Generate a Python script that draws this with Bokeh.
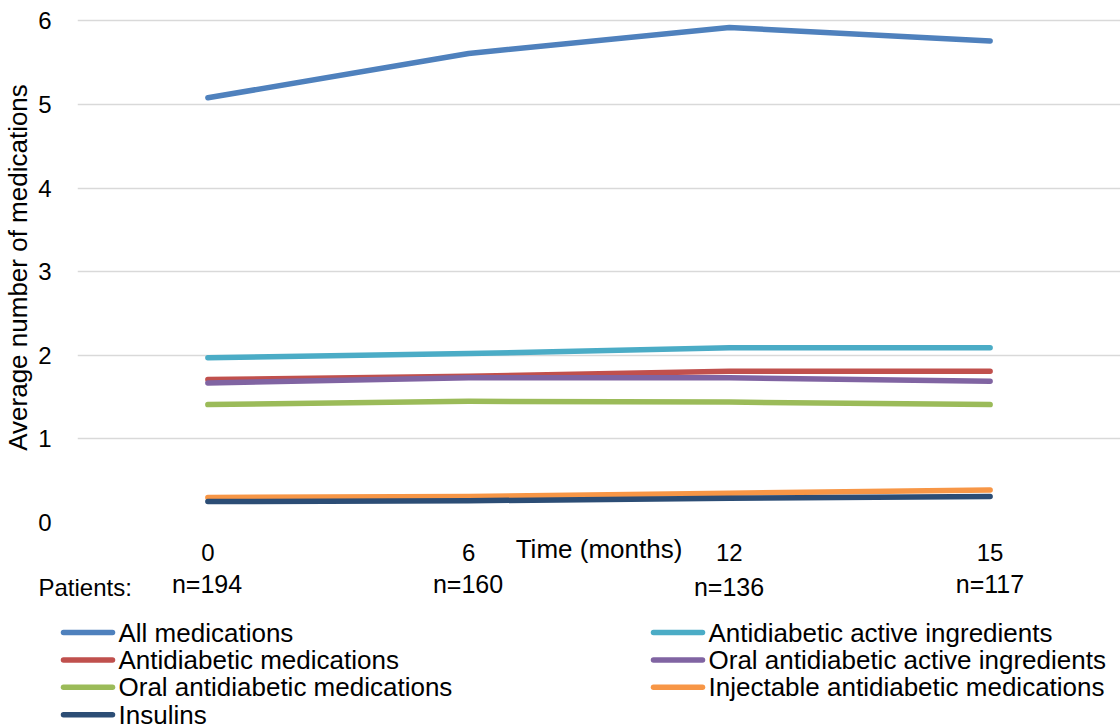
from bokeh.plotting import figure
from bokeh.layouts import column
from bokeh.models import Range1d, FixedTicker
from bokeh.core.properties import value
from bokeh.embed import file_html
from bokeh.resources import INLINE

# Follow-up time points (months) and number of patients at each
months = ["0", "6", "12", "15"]
patients = ["n=194", "n=160", "n=136", "n=117"]

# Average number of medications per patient
all_medications = [5.08, 5.61, 5.92, 5.76]
antidiabetic_active = [1.97, 2.02, 2.09, 2.09]
antidiabetic_medications = [1.71, 1.75, 1.81, 1.81]
oral_active = [1.67, 1.73, 1.73, 1.69]
oral_medications = [1.41, 1.45, 1.44, 1.41]
injectable_medications = [0.30, 0.31, 0.35, 0.39]
insulins = [0.25, 0.26, 0.29, 0.31]

series = [
    ("All medications", all_medications, "#4F81BD"),
    ("Antidiabetic active ingredients", antidiabetic_active, "#4BACC6"),
    ("Antidiabetic medications", antidiabetic_medications, "#C0504D"),
    ("Oral antidiabetic active ingredients", oral_active, "#8064A2"),
    ("Oral antidiabetic medications", oral_medications, "#9BBB59"),
    ("Injectable antidiabetic medications", injectable_medications, "#F79646"),
    ("Insulins", insulins, "#2C4D75"),
]
colors = {name: color for name, _, color in series}

FONT = "Liberation Sans"
WIDTH = 1120
LEFT = 76
LINE_W = 5.5
x = list(range(len(months)))
unit_px = (WIDTH - LEFT) / len(months)

# ---- main chart -------------------------------------------------------
p = figure(width=WIDTH, height=570, output_backend="svg", toolbar_location=None,
           x_range=Range1d(-0.5, len(months) - 0.5), y_range=Range1d(0, 6.1),
           min_border_left=LEFT, min_border_right=0, min_border_top=12,
           min_border_bottom=48)
p.outline_line_color = None

p.xgrid.grid_line_color = None
p.ygrid.grid_line_color = "#D9D9D9"
p.ygrid.grid_line_width = 1.5

p.xaxis.ticker = FixedTicker(ticks=x)
p.xaxis.major_label_overrides = {i: m for i, m in enumerate(months)}
p.yaxis.ticker = FixedTicker(ticks=[0, 1, 2, 3, 4, 5, 6])
for ax in (p.xaxis[0], p.yaxis[0]):
    ax.axis_line_color = None
    ax.major_tick_line_color = None
    ax.minor_tick_line_color = None
    ax.major_label_text_font = FONT
    ax.major_label_text_font_size = "24px"
    ax.major_label_text_color = "#000000"
    ax.axis_label_text_font = FONT
    ax.axis_label_text_font_style = "normal"
    ax.axis_label_text_color = "#000000"
p.xaxis.major_label_standoff = 15
p.yaxis.major_label_standoff = 20

p.yaxis.axis_label = "Average number of medications"
p.yaxis.axis_label_text_font_size = "26px"
p.yaxis.axis_label_standoff = 2

# the x-axis title shares the row of the tick labels
p.xaxis.axis_label = "Time (months)"
p.xaxis.axis_label_text_font_size = "26px"
p.xaxis.axis_label_standoff = -30

for name, vals, color in series:
    p.line(x, vals, line_color=color, line_width=LINE_W,
           line_cap="round", line_join="round")

# ---- patient counts and legend ----------------------------------------
# lower panel: x shares the chart's scale (extended to the page's left edge),
# y counts pixels down from the top of the panel
x_start = -0.5 - LEFT / unit_px
q = figure(width=WIDTH, height=155, output_backend="svg", toolbar_location=None,
           x_range=Range1d(x_start, len(months) - 0.5),
           y_range=Range1d(155, 0),
           min_border_left=0, min_border_right=0, min_border_top=0,
           min_border_bottom=0)
q.frame_align = False
q.outline_line_color = None
q.axis.visible = False
q.grid.visible = False


def px(v):
    """Horizontal page pixel -> lower-panel x coordinate."""
    return x_start + v / unit_px


q.text(x=[px(38)], y=[17], text=["Patients:"],
       text_font=value(FONT), text_font_size="24px", text_align="left",
       text_baseline="middle", text_color="#000000")
q.text(x=x, y=[13, 13, 16, 13], text=patients,
       text_font=value(FONT), text_font_size="25px", text_align="center",
       text_baseline="middle", text_color="#000000")

# two-column legend: keys on the left of each label
left_names = ["All medications", "Antidiabetic medications",
              "Oral antidiabetic medications", "Insulins"]
right_names = ["Antidiabetic active ingredients",
               "Oral antidiabetic active ingredients",
               "Injectable antidiabetic medications"]
ROW0, PITCH = 62, 27.4

for names, key_left in ((left_names, 63), (right_names, 653)):
    rows = [ROW0 + i * PITCH for i in range(len(names))]
    q.segment(x0=[px(key_left)] * len(names), x1=[px(key_left + 49)] * len(names),
              y0=rows, y1=rows, line_color=[colors[n] for n in names],
              line_width=LINE_W, line_cap="round")
    q.text(x=[px(key_left + 55)] * len(names), y=rows, text=names,
           text_font=value(FONT), text_font_size="26px", text_align="left",
           text_baseline="middle", text_color="#000000")

layout = column(p, q, spacing=0)
open("out.html", "w").write(file_html(layout, INLINE))
